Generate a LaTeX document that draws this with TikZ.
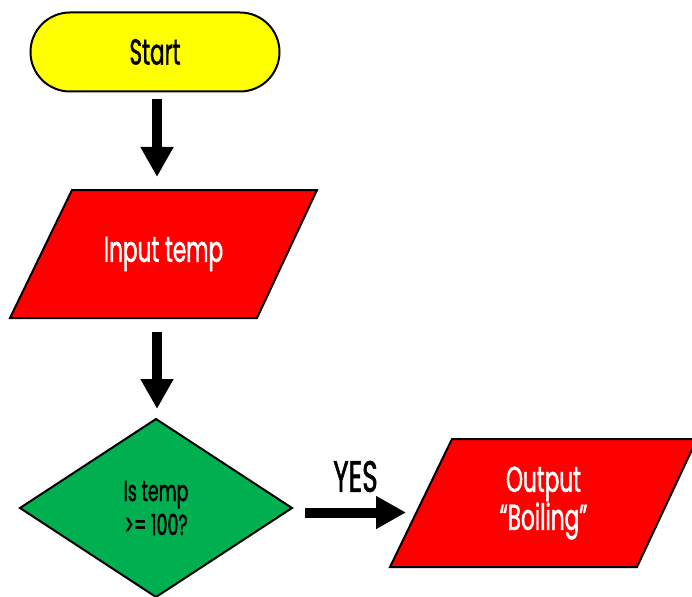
\documentclass[tikz,border=0pt]{standalone}
\usepackage{fontspec}
\setmainfont[FakeStretch=0.6,FakeBold=1.2]{Poppins}
\usetikzlibrary{shapes.geometric,shapes.misc,arrows.meta}
\definecolor{termyellow}{HTML}{FFFF00}
\definecolor{ioRed}{HTML}{FF0000}
\definecolor{decGreen}{HTML}{00B050}
\tikzset{
  outline/.style={draw=black,line width=2pt},
  terminal/.style={outline,rounded rectangle,fill=termyellow,minimum width=249pt,minimum height=79pt,inner sep=0pt,outer sep=0pt},
  % bounding frame of a parallelogram; the slanted outline is drawn from its anchors
  ioframe/.style={rectangle,text=white,minimum width=307pt,minimum height=128pt,inner sep=0pt,outer sep=0pt,align=center},
  ioshape/.style={outline,fill=ioRed},
  decision/.style={outline,diamond,aspect=1.53,fill=decGreen,minimum width=272pt,minimum height=178pt,inner sep=0pt,outer sep=0pt,align=center},
  blk/.style={line width=10pt,-{Triangle[width=31pt,length=30pt]}},
  big/.style={font=\fontsize{36}{38}\selectfont},
  small/.style={font=\fontsize{29}{34}\selectfont},
}
\newcommand{\ioslant}[1]{%
  \draw[ioshape] ([xshift=62pt]#1.north west) -- (#1.north east)
    -- ([xshift=-60pt]#1.south east) -- (#1.south west) -- cycle;}
\begin{document}
\begin{tikzpicture}[x=1pt,y=-1pt]
  \clip (0,0) rectangle (692,596);
  \fill[white] (0,0) rectangle (692,596);
  \node[terminal,big] (start) at (155,52) {Start};
  \node[ioframe] (inpframe) at (163.5,254) {};
  \ioslant{inpframe}
  \node[big,text=white] (inp) at (inpframe.center) {Input temp};
  \node[decision,small] (dia) at (156,508) {Is temp\\>= 100?};
  \node[ioframe] (outframe) at (543.5,503) {};
  \ioslant{outframe}
  \node[big,text=white,align=center] (out) at (outframe.center) {Output\\“Boiling”};
  \draw[blk] ([shift={(2,8)}]start.south) -- ([shift={(-6.5,-13)}]inpframe.north);
  \draw[blk] ([shift={(-6.5,14)}]inpframe.south) -- ([shift={(1,-10)}]dia.north);
  \draw[blk] ([shift={(13,4.5)}]dia.east) -- ([shift={(16,9.5)}]outframe.west)
    node[midway,above=12pt,font=\fontsize{44}{46}\selectfont] (yes) {YES};
\end{tikzpicture}
\end{document}
